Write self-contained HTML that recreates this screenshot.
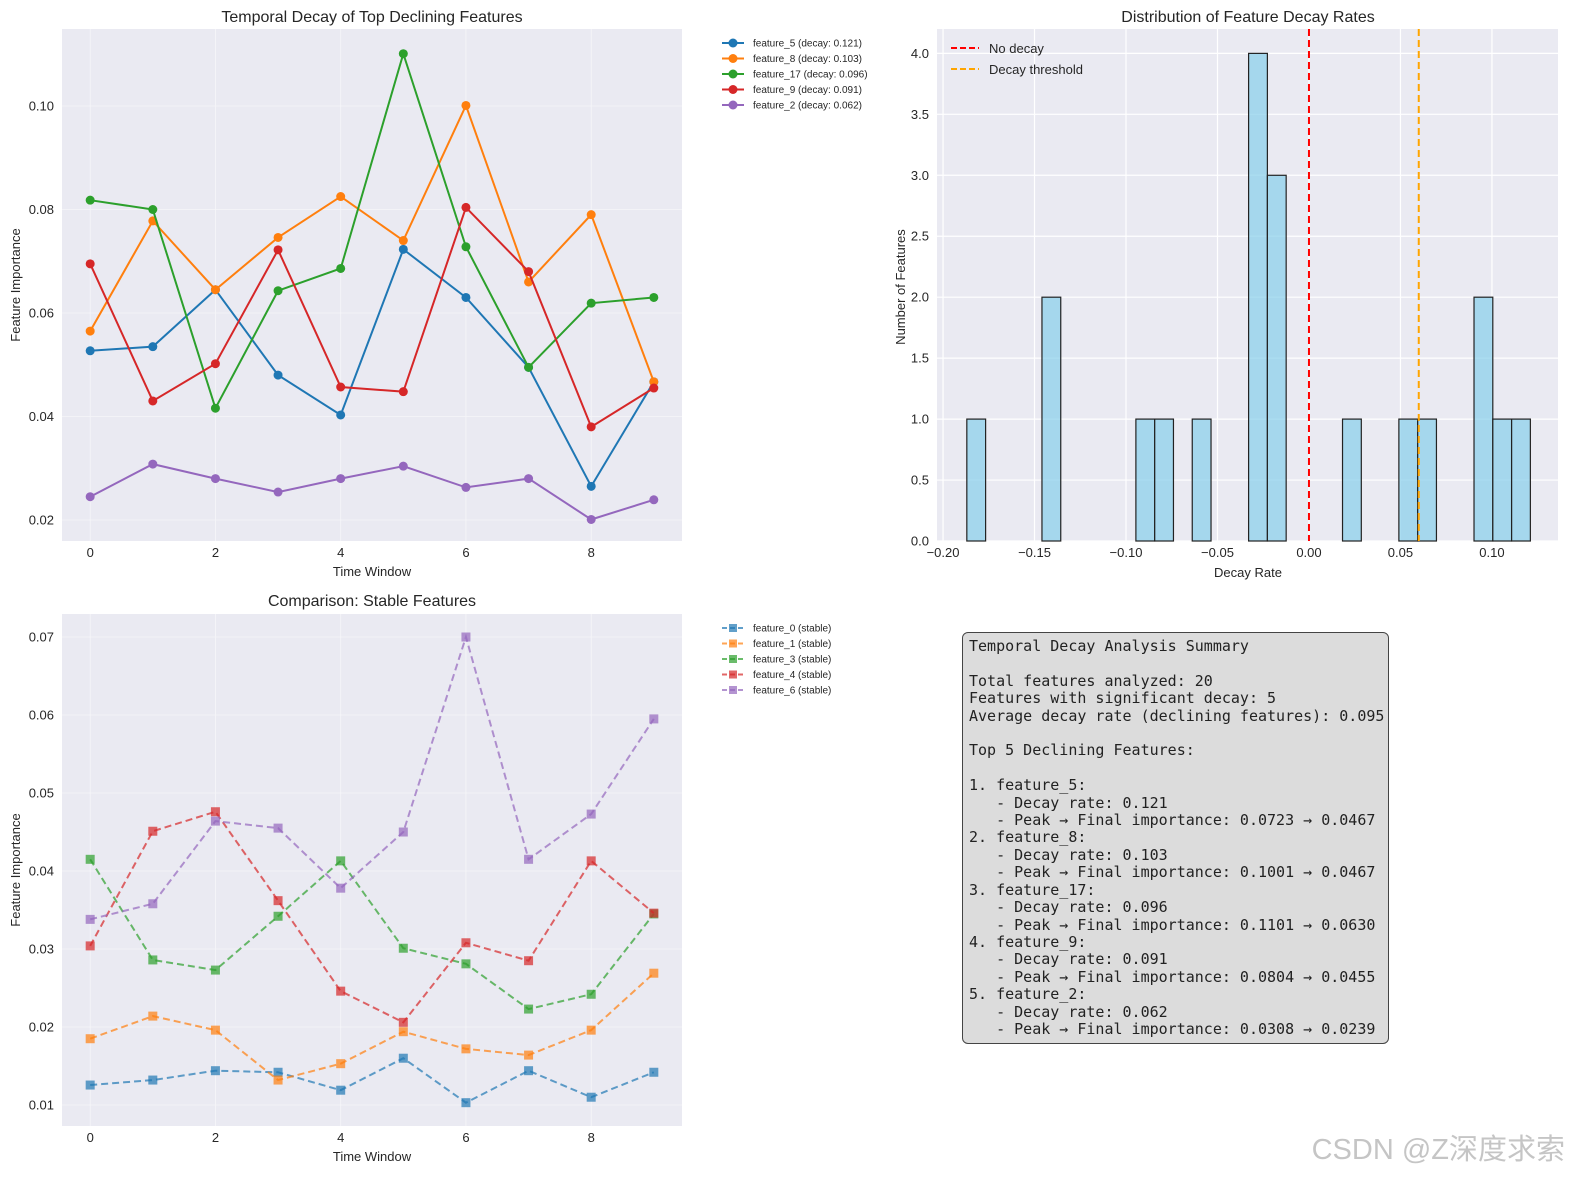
<!DOCTYPE html>
<html><head><meta charset="utf-8"><style>
body{margin:0;background:#fff;width:1589px;height:1190px;overflow:hidden;position:relative;font-family:"Liberation Sans",sans-serif}
svg{position:absolute;left:0;top:0}
#summary{position:absolute;left:962px;top:632px;width:427px;height:412px;background:#dcdcdc;border:1.5px solid #444;border-radius:6px;box-sizing:border-box;padding:5px 0 0 6px;font-family:"DejaVu Sans Mono",monospace;font-size:15px;line-height:17.4px;white-space:pre;color:#222}
#wm{position:absolute;right:24px;bottom:22px;font-size:29px;color:rgba(150,150,150,0.55);font-family:"Liberation Sans","Noto Sans CJK SC",sans-serif}
</style></head><body>
<svg id="chart" width="1589" height="1190"></svg>
<div id="summary">Temporal Decay Analysis Summary

Total features analyzed: 20
Features with significant decay: 5
Average decay rate (declining features): 0.095

Top 5 Declining Features:

1. feature_5:
   - Decay rate: 0.121
   - Peak → Final importance: 0.0723 → 0.0467
2. feature_8:
   - Decay rate: 0.103
   - Peak → Final importance: 0.1001 → 0.0467
3. feature_17:
   - Decay rate: 0.096
   - Peak → Final importance: 0.1101 → 0.0630
4. feature_9:
   - Decay rate: 0.091
   - Peak → Final importance: 0.0804 → 0.0455
5. feature_2:
   - Decay rate: 0.062
   - Peak → Final importance: 0.0308 → 0.0239</div>
<div id="wm">CSDN @Z深度求索</div>
<script>
const timeWindows=[0,1,2,3,4,5,6,7,8,9];
const declNames=["feature_5 (decay: 0.121)","feature_8 (decay: 0.103)","feature_17 (decay: 0.096)","feature_9 (decay: 0.091)","feature_2 (decay: 0.062)"];
const f5=[0.0527,0.0535,0.0645,0.048,0.0403,0.0723,0.063,0.0495,0.0265,0.0467];
const f8=[0.0565,0.0778,0.0645,0.0746,0.0825,0.074,0.1001,0.066,0.079,0.0467];
const f17=[0.0818,0.080,0.0416,0.0643,0.0686,0.1101,0.0728,0.0495,0.0619,0.063];
const f9=[0.0695,0.043,0.0502,0.0722,0.0457,0.0448,0.0804,0.068,0.038,0.0455];
const f2=[0.0245,0.0308,0.028,0.0254,0.028,0.0304,0.0263,0.028,0.0201,0.0239];
const stableNames=["feature_0 (stable)","feature_1 (stable)","feature_3 (stable)","feature_4 (stable)","feature_6 (stable)"];
const s0=[0.01256,0.0132,0.0144,0.0142,0.0119,0.0160,0.0103,0.0144,0.0110,0.0142];
const s1=[0.0185,0.0214,0.0196,0.0132,0.0153,0.0194,0.0172,0.0164,0.0196,0.0269];
const s3=[0.0415,0.0286,0.0273,0.0342,0.0413,0.0301,0.0281,0.0223,0.0242,0.0345];
const s4=[0.0304,0.0451,0.0476,0.0362,0.0246,0.0206,0.0308,0.0285,0.0413,0.0346];
const s6=[0.0338,0.0358,0.0464,0.0455,0.0378,0.0450,0.0700,0.0415,0.0473,0.0595];
const histCounts=[1,0,0,0,2,0,0,0,0,1,1,0,1,0,0,4,3,0,0,0,1,0,0,1,1,0,0,2,1,1];
const histMin=-0.187, histMax=0.121;
const noDecay=0, decayThreshold=0.06;
const xTicksLine=[0,2,4,6,8];
const yTicksTop=[0.02,0.04,0.06,0.08,0.10];
const yTicksBottom=[0.01,0.02,0.03,0.04,0.05,0.06,0.07];
const xTicksHist=[-0.20,-0.15,-0.10,-0.05,0.00,0.05,0.10];
const yTicksHist=[0,0.5,1,1.5,2,2.5,3,3.5,4];
const colors=["#1f77b4","#ff7f0e","#2ca02c","#d62728","#9467bd"];

const svg=document.getElementById('chart');
const NS="http://www.w3.org/2000/svg";
function el(tag,attrs,parent){const e=document.createElementNS(NS,tag);for(const k in attrs)e.setAttribute(k,attrs[k]);(parent||svg).appendChild(e);return e;}
function txt(s,x,y,attrs,parent){const t=el('text',Object.assign({x:x,y:y,'font-size':13,fill:'#262626','font-family':'Liberation Sans, sans-serif'},attrs),parent);t.textContent=s;return t;}
function fmtMinus(s){return s.replace('-','\u2212');}

function axes(name,L,T,R,B,xmin,xmax,ymin,ymax){
  const g=el('g',{});
  
  
  el('rect',{x:L,y:T,width:R-L,height:B-T,fill:'#eaeaf2'},g);
  return {g,sx:v=>L+(v-xmin)/(xmax-xmin)*(R-L),sy:v=>B-(v-ymin)/(ymax-ymin)*(B-T),L,T,R,B};
}
function gridTicks(a,xt,yt,xf,yf,gridColor,gw){
  xt.forEach(v=>{const x=a.sx(v);el('line',{x1:x,x2:x,y1:a.T,y2:a.B,stroke:gridColor,'stroke-width':gw},a.g);
    const t=txt(xf(v),x,a.B+16,{'text-anchor':'middle'},a.g);});
  yt.forEach(v=>{const y=a.sy(v);el('line',{x1:a.L,x2:a.R,y1:y,y2:y,stroke:gridColor,'stroke-width':gw},a.g);
    const t=txt(yf(v),a.L-8,y+4.5,{'text-anchor':'end'},a.g);});
}

// Top-left
const A=axes('decline-line-chart',62,29,682,541,-0.45,9.45,0.01594,0.11488);
gridTicks(A,xTicksLine,yTicksTop,v=>String(v),v=>v.toFixed(2),'#f6f6f9',0.8);
const declSeries=[f5,f8,f17,f9,f2];
declSeries.forEach((s,i)=>{
  const pts=s.map((v,j)=>A.sx(timeWindows[j])+','+A.sy(v)).join(' ');
  const pl=el('polyline',{points:pts,fill:'none',stroke:colors[i],'stroke-width':2},A.g);
  
  
  s.forEach((v,j)=>{const c=el('circle',{cx:A.sx(timeWindows[j]),cy:A.sy(v),r:4.5,fill:colors[i]},A.g);
    
    });
});
let t=txt('Temporal Decay of Top Declining Features',372,22,{'text-anchor':'middle','font-size':16});

t=txt('Time Window',372,576,{'text-anchor':'middle','font-size':13});

t=txt('Feature Importance',20,285,{'text-anchor':'middle','transform':'rotate(-90 20 285)'});

declNames.forEach((n,i)=>{const y=43+i*15.5;
  const lg=el('g',{});
  el('line',{x1:722,x2:744,y1:y,y2:y,stroke:colors[i],'stroke-width':2},lg);
  el('circle',{cx:733,cy:y,r:4.5,fill:colors[i]},lg);
  txt(n,753,y+3.5,{'font-size':10},lg);});

// Bottom-left
const B=axes('stable-line-chart',62,614,682,1126,-0.45,9.45,0.00731,0.07295);
gridTicks(B,xTicksLine,yTicksBottom,v=>String(v),v=>v.toFixed(2),'#f6f6f9',0.8);
const stSeries=[s0,s1,s3,s4,s6];
stSeries.forEach((s,i)=>{
  const pts=s.map((v,j)=>B.sx(timeWindows[j])+','+B.sy(v)).join(' ');
  const pl=el('polyline',{points:pts,fill:'none',stroke:colors[i],'stroke-width':2,'stroke-dasharray':'7,4',opacity:0.7},B.g);
  
  
  s.forEach((v,j)=>{const r=el('rect',{x:B.sx(timeWindows[j])-4.5,y:B.sy(v)-4.5,width:9,height:9,fill:colors[i],opacity:0.7},B.g);
    
    });
});
t=txt('Comparison: Stable Features',372,606,{'text-anchor':'middle','font-size':16});

t=txt('Time Window',372,1161,{'text-anchor':'middle','font-size':13});

t=txt('Feature Importance',20,870,{'text-anchor':'middle','transform':'rotate(-90 20 870)'});

stableNames.forEach((n,i)=>{const y=628+i*15.5;
  const lg=el('g',{});
  el('line',{x1:722,x2:744,y1:y,y2:y,stroke:colors[i],'stroke-width':2,'stroke-dasharray':'5,3',opacity:0.7},lg);
  el('rect',{x:729,y:y-4,width:8,height:8,fill:colors[i],opacity:0.7},lg);
  txt(n,753,y+3.5,{'font-size':10},lg);});

// Histogram
const H=axes('decay-histogram',937,29,1558,541,-0.2033,0.1361,0,4.2);
gridTicks(H,xTicksHist,yTicksHist,v=>fmtMinus(v.toFixed(2)),v=>v.toFixed(1),'#ffffff',1.2);
const bw=(histMax-histMin)/histCounts.length;
histCounts.forEach((c,i)=>{ if(!c) return;
  const x0=H.sx(histMin+i*bw),x1=H.sx(histMin+(i+1)*bw);
  const r=el('rect',{x:x0,y:H.sy(c),width:x1-x0,height:H.sy(0)-H.sy(c),fill:'#87ceeb','fill-opacity':0.7,stroke:'#222','stroke-width':1.2},H.g);
  
  });
let vl=el('line',{x1:H.sx(noDecay),x2:H.sx(noDecay),y1:H.T,y2:H.B,stroke:'#ff0000','stroke-width':2,'stroke-dasharray':'7,4'},H.g);

vl=el('line',{x1:H.sx(decayThreshold),x2:H.sx(decayThreshold),y1:H.T,y2:H.B,stroke:'#ffa500','stroke-width':2,'stroke-dasharray':'7,4'},H.g);

t=txt('Distribution of Feature Decay Rates',1248,22,{'text-anchor':'middle','font-size':16});

t=txt('Decay Rate',1248,577,{'text-anchor':'middle'});

t=txt('Number of Features',905,287,{'text-anchor':'middle','transform':'rotate(-90 905 287)'});

[['No decay','#ff0000'],['Decay threshold','#ffa500']].forEach((d,i)=>{const y=48+i*21;
  const lg=el('g',{});
  el('line',{x1:951,x2:979,y1:y,y2:y,stroke:d[1],'stroke-width':2,'stroke-dasharray':'6,3'},lg);
  txt(d[0],989,y+5,{'font-size':13},lg);});
</script>
</body></html>
